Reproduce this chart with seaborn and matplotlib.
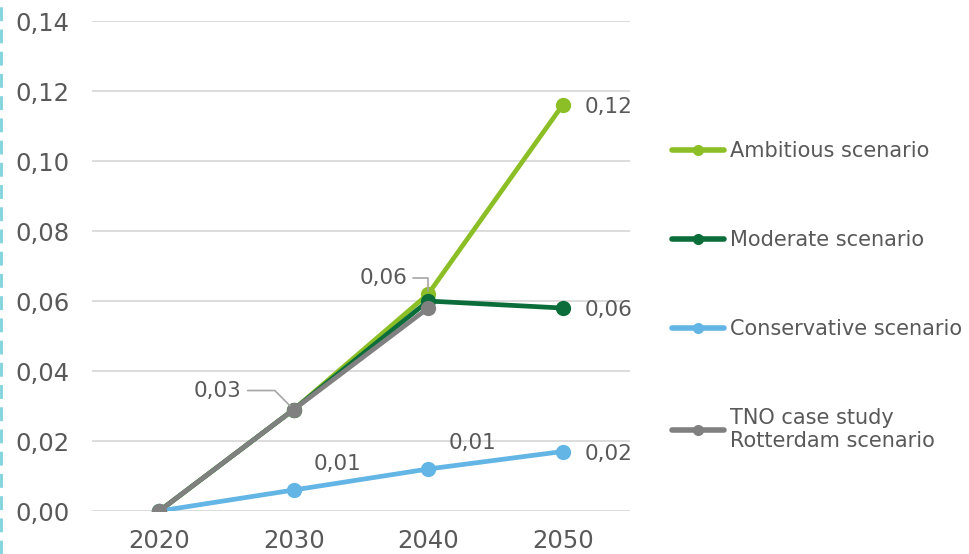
import pandas as pd
import seaborn as sns
import matplotlib.pyplot as plt
from matplotlib.lines import Line2D
from matplotlib.ticker import FuncFormatter

# data
years = [2020, 2030, 2040, 2050]
ambitious = [0.0, 0.029, 0.062, 0.116]
moderate = [0.0, 0.029, 0.060, 0.058]
conservative = [0.0, 0.006, 0.012, 0.017]
tno = [0.0, 0.029, 0.058, None]

series_names = ["Ambitious scenario", "Moderate scenario", "Conservative scenario",
                "TNO case study\nRotterdam scenario"]
colors = ["#8cbf26", "#0b6e3a", "#62b5e5", "#808080"]

rows = []
for name, vals in zip(series_names, [ambitious, moderate, conservative, tno]):
    for y, v in zip(years, vals):
        rows.append({"year": y, "value": v, "scenario": name})
df = pd.DataFrame(rows).dropna()

sns.set_theme(style="white")
plt.rcParams["font.family"] = ["DejaVu Sans"]
text_color = "#595959"

fig = plt.figure(figsize=(9.69, 5.54), dpi=100)
ax = fig.add_axes([0.095, 0.0776, 0.555, 0.8844])

sns.lineplot(data=df, x="year", y="value", hue="scenario", hue_order=series_names,
             palette=colors, marker="o", markersize=11, markeredgewidth=0,
             linewidth=3.4, legend=False, ax=ax)

ax.set_xlim(2015, 2055)
ax.set_ylim(0, 0.14)
ax.set_yticks([0, 0.02, 0.04, 0.06, 0.08, 0.10, 0.12, 0.14])
ax.set_xticks(years)
ax.yaxis.set_major_formatter(FuncFormatter(lambda v, p: f"{v:.2f}".replace(".", ",")))
ax.grid(axis="y", color="#d9d9d9", linewidth=1.3)
ax.set_axisbelow(True)
for s in ax.spines.values():
    s.set_visible(False)
ax.tick_params(axis="both", length=0, labelsize=17.5, labelcolor=text_color)
ax.tick_params(axis="y", pad=16)
ax.tick_params(axis="x", pad=13)
ax.set_xlabel("")
ax.set_ylabel("")


def fmt(v):
    return f"{v:.2f}".replace(".", ",")


lab = dict(fontsize=15.5, color=text_color, textcoords="offset pixels", va="center")
# right-hand labels at 2050
for vals in [ambitious, moderate, conservative]:
    ax.annotate(fmt(vals[3]), (years[3], vals[3]), xytext=(22, -2), ha="left", **lab)
# conservative labels above points
for i in [1, 2]:
    ax.annotate(fmt(conservative[i]), (years[i], conservative[i]), xytext=(44, 26),
                ha="center", **lab)
# labels with leader lines
ax.annotate(fmt(tno[1]), (years[1], tno[1]), xytext=(-76, 19), ha="center",
            arrowprops=dict(arrowstyle="-", color="#a6a6a6", lw=1.2,
                            connectionstyle="angle,angleA=0,angleB=135,rad=0",
                            shrinkA=2, shrinkB=4), **lab)
ax.annotate(fmt(ambitious[2]), (years[2], ambitious[2]), xytext=(-45, 16), ha="center",
            arrowprops=dict(arrowstyle="-", color="#a6a6a6", lw=1.2,
                            connectionstyle="angle,angleA=0,angleB=90,rad=0",
                            shrinkA=2, shrinkB=2), **lab)

handles = [Line2D([0], [0], color=c, lw=4, marker="o", markersize=8, markeredgewidth=0)
           for c in colors]
leg = ax.legend(handles, series_names, loc="upper left", bbox_to_anchor=(0.685, 0.76),
                bbox_transform=fig.transFigure, frameon=False, fontsize=15,
                handlelength=2.5, handletextpad=0.3, labelspacing=3.3, borderaxespad=0)
for t in leg.get_texts():
    t.set_color(text_color)

# dashed cyan edge on the left
fig.add_artist(Line2D([0.0015, 0.0015], [0, 1], transform=fig.transFigure,
                      color="#7fd3dc", lw=2, linestyle=(0, (5, 3))))

plt.savefig("out.png", dpi=100)
